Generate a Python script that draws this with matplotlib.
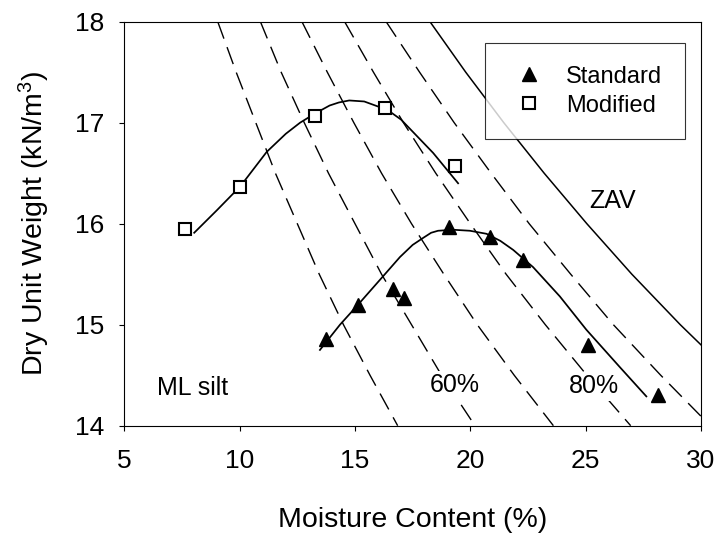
import matplotlib
matplotlib.use('Agg')
import matplotlib.pyplot as plt

plt.rcParams['font.family'] = ['Liberation Sans', 'DejaVu Sans']
plt.rcParams['mathtext.fontset'] = 'custom'
plt.rcParams['mathtext.rm'] = 'Liberation Sans'
plt.rcParams['mathtext.default'] = 'regular'

# ______________________________ datos ______________________________

# ensayo Proctor estandar
std_w = [13.73, 15.14, 16.63, 17.12, 19.06, 20.84, 22.29, 25.12, 28.15]
std_g = [14.86, 15.19, 15.35, 15.26, 15.97, 15.87, 15.64, 14.80, 14.30]

# ensayo Proctor modificado
mod_w = [7.63, 10.03, 13.26, 16.31, 19.32]
mod_g = [15.95, 16.36, 17.07, 17.15, 16.57]

# curvas ajustadas
std_fit_w = [13.48, 14.35, 15.14, 16.22, 16.95, 17.50, 17.96, 18.30, 18.60, 19.25, 19.98,
             20.70, 21.30, 21.86, 22.72, 23.88, 25.03, 26.48, 27.63]
std_fit_g = [14.75, 15.00, 15.20, 15.48, 15.67, 15.79, 15.86, 15.91, 15.93, 15.94, 15.93,
             15.90, 15.83, 15.74, 15.57, 15.28, 14.95, 14.58, 14.29]

mod_fit_w = [8.03, 9.00, 10.03, 11.17, 12.00, 12.62, 13.26, 13.90, 14.30, 14.75, 15.40,
             16.00, 16.51, 17.00, 17.38, 18.39, 19.47]
mod_fit_g = [15.91, 16.13, 16.37, 16.71, 16.89, 17.00, 17.09, 17.17, 17.20, 17.22, 17.21,
             17.16, 17.11, 17.03, 16.94, 16.70, 16.40]

# lineas de saturacion (humedad en cada peso unitario)
sat_g = [18, 17.5, 17, 16.5, 16, 15.5, 15, 14.5, 14]
s50_w = [9.05, 9.85, 10.70, 11.55, 12.50, 13.45, 14.50, 15.65, 16.85]
s60_w = [10.90, 11.80, 12.80, 13.85, 15.00, 16.15, 17.45, 18.75, 20.20]
s70_w = [12.70, 13.80, 14.95, 16.15, 17.45, 18.85, 20.30, 21.90, 23.60]
s80_w = [14.55, 15.80, 17.10, 18.50, 20.00, 21.55, 23.25, 25.05, 26.95]
s90_w = [16.35, 17.80, 19.30, 20.90, 22.55, 24.35, 26.20, 28.25, 30.40]
zav_w = [18.25, 19.80, 21.45, 23.20, 25.05, 27.00, 29.10, 31.35, 33.80]

x_ticks = [5, 10, 15, 20, 25, 30]
y_ticks = [14, 15, 16, 17, 18]

# ______________________________ grafico ______________________________

fig = plt.figure(figsize=(7.21, 5.42), dpi=100)
ax = fig.add_axes([0.1724, 0.2146, 0.7999, 0.7454])

dash = (0, (13, 6.5))
for w in [s50_w, s60_w, s70_w, s80_w, s90_w]:
    ax.plot(w, sat_g, color='black', lw=1.0, linestyle=dash, zorder=1)
ax.plot(zav_w, sat_g, color='black', lw=1.1, zorder=1)

ax.plot(std_fit_w, std_fit_g, color='black', lw=1.25, zorder=2)
ax.plot(mod_fit_w, mod_fit_g, color='black', lw=1.25, zorder=2)

ax.plot(std_w, std_g, linestyle='none', marker='^', ms=10.5, color='black',
        label='Standard', zorder=3)
ax.plot(mod_w, mod_g, linestyle='none', marker='s', ms=9, mfc='white', mec='black',
        mew=1.5, label='Modified', zorder=3)

box = dict(facecolor='white', edgecolor='none', pad=2)
ax.text(7.98, 14.37, 'ML silt', fontsize=18, ha='center', va='center', zorder=4)
ax.text(19.33, 14.40, '60%', fontsize=18, ha='center', va='center', bbox=box, zorder=4)
ax.text(25.35, 14.39, '80%', fontsize=18, ha='center', va='center', bbox=box, zorder=4)
ax.text(26.15, 16.22, 'ZAV', fontsize=18, ha='center', va='center', zorder=4)

ax.set_xlim(5, 30)
ax.set_ylim(14, 18)
ax.set_xticks(x_ticks)
ax.set_yticks(y_ticks)
ax.tick_params(direction='out', length=3.6, width=0.8, labelsize=19)
ax.tick_params(axis='x', pad=13)
ax.tick_params(axis='y', pad=11)
for s in ax.spines.values():
    s.set_linewidth(0.8)

ax.set_xlabel('Moisture Content (%)', fontsize=20.5, labelpad=25)
ax.set_ylabel('Dry Unit Weight (kN/m$^3$)', fontsize=20.5, labelpad=16)

leg = ax.legend(loc='upper right', bbox_to_anchor=(0.972, 0.947), fontsize=17,
                frameon=True, fancybox=False, edgecolor='black', borderpad=0.95,
                handlelength=1.8, handletextpad=0.7, labelspacing=0.3,
                borderaxespad=0)
leg.get_frame().set_linewidth(0.8)
leg.set_zorder(5)

fig.savefig('out.png', dpi=100)
